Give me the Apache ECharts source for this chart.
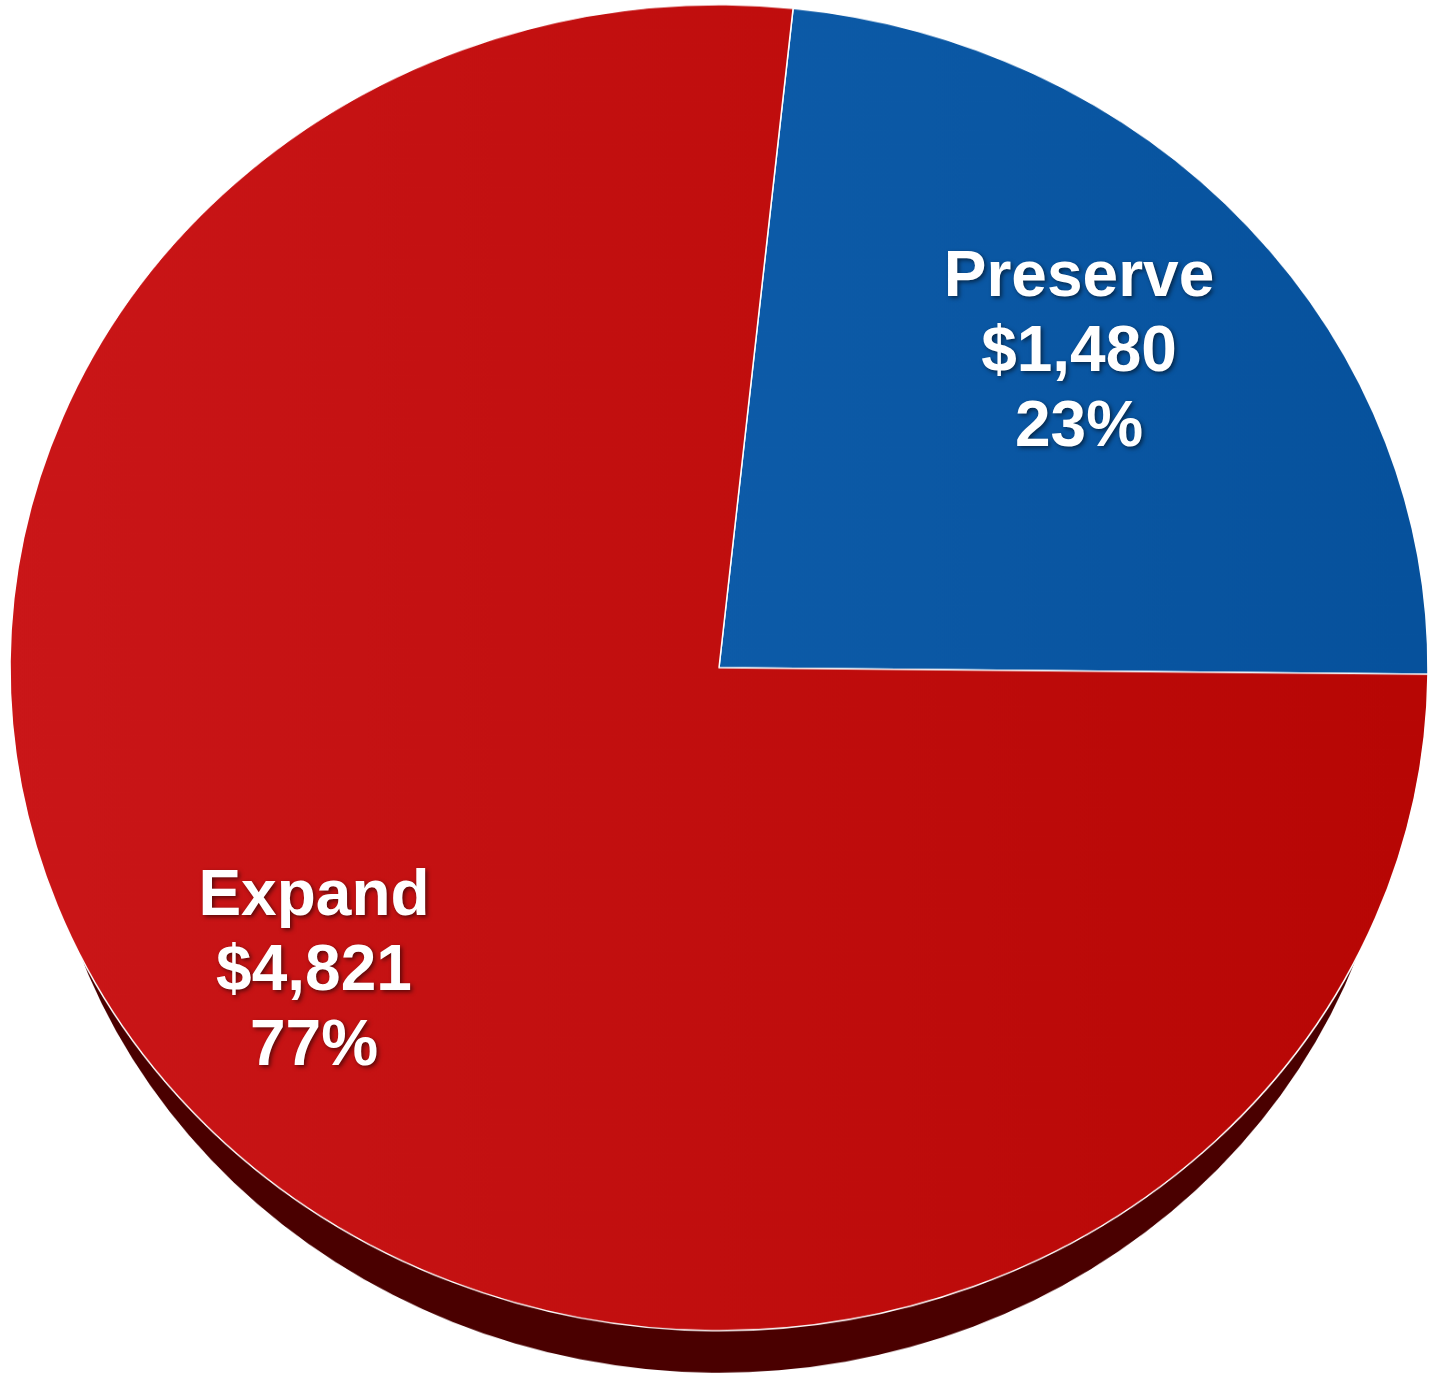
<!DOCTYPE html>
<html>
<head>
<meta charset="utf-8">
<script src="https://cdn.jsdelivr.net/npm/echarts@6/dist/echarts.min.js"></script>
<style>
html,body{margin:0;padding:0;background:#fff;overflow:hidden;width:1430px;height:1375px;}
#main{position:absolute;left:0;top:0;width:1430px;height:1471px;transform:scaleY(0.9351);transform-origin:0 0;}
#labels{position:absolute;left:0;top:0;width:1430px;height:1375px;}
</style>
</head>
<body>
<div id="main"></div>
<div id="labels"></div>
<script>
const categories = ['Preserve', 'Expand'];
const values = [1480, 4821];
const topColors = [['#0d5ba8', '#06519c'], ['#ca1618', '#b70604']];
const sideColor = '#4a0000';

function fmt(n) { return '$' + String(n).replace(/\B(?=(\d{3})+(?!\d))/g, ','); }

const data = categories.map((c, i) => ({ name: c, value: values[i] }));

const main = echarts.init(document.getElementById('main'), null, { renderer: 'canvas' });
main.setOption({
  animation: false,
  series: [
    {
      type: 'pie', silent: true, startAngle: 84, center: [719, 788], radius: [0, 680],
      label: { show: false }, labelLine: { show: false },
      itemStyle: { color: sideColor, borderWidth: 0 },
      data: data
    },
    {
      type: 'pie', silent: true, startAngle: 84, center: [719, 714], radius: [0, 709],
      label: { show: false }, labelLine: { show: false },
      data: data.map((d, i) => ({
        name: d.name, value: d.value,
        itemStyle: {
          color: { type: 'linear', x: 0, y: 0, x2: 1, y2: 0,
            colorStops: [{ offset: 0, color: topColors[i][0] }, { offset: 1, color: topColors[i][1] }] },
          borderColor: '#ffffff', borderWidth: 1.5
        }
      }))
    }
  ]
});

const lab = echarts.init(document.getElementById('labels'), null, { renderer: 'canvas' });
lab.setOption({
  animation: false,
  series: [{
    type: 'pie', silent: true, startAngle: 81.25, center: [696.5, 662.5], radius: [380, 598],
    avoidLabelOverlap: false,
    itemStyle: { color: 'rgba(0,0,0,0)' },
    labelLine: { show: false },
    label: {
      show: true, position: 'inside',
      formatter: p => p.name + '\n' + fmt(p.value) + '\n' + Math.round(p.percent) + '%',
      color: '#ffffff', fontFamily: 'Liberation Sans, Arial, sans-serif', fontWeight: 'bold',
      fontSize: 64, lineHeight: 75, align: 'center',
      textShadowColor: 'rgba(0,0,0,0.55)', textShadowBlur: 4, textShadowOffsetX: 2, textShadowOffsetY: 2
    },
    data: data
  }]
});
</script>
</body>
</html>
